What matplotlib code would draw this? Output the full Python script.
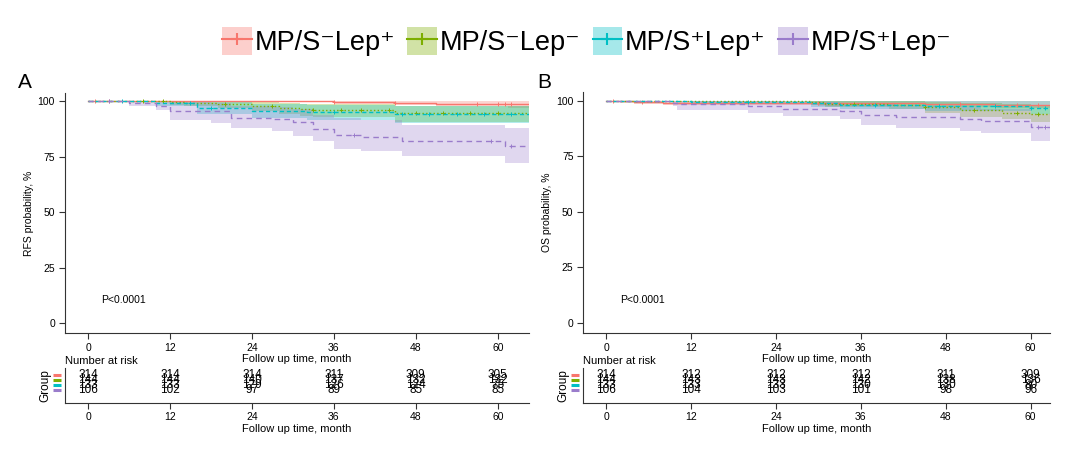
import matplotlib
matplotlib.use('Agg')
import matplotlib.pyplot as plt
from matplotlib.patches import Patch
from matplotlib.lines import Line2D
from matplotlib.transforms import blended_transform_factory

plt.rcParams['font.family'] = ['Liberation Sans', 'DejaVu Sans']

# groups
labels = ['MP/S\u207bLep\u207a', 'MP/S\u207bLep\u207b', 'MP/S\u207aLep\u207a', 'MP/S\u207aLep\u207b']
colors = ['#F8766D', '#7CAE00', '#00BFC4', '#9A7CCB']
styles = ['-', ':', (0, (3, 2)), (0, (4, 3))]
risk_times = [0, 12, 24, 36, 48, 60]

# ---- panel A: RFS (step curves) ----
a_t = [[0, 36, 45, 51, 61.5],
       [0, 12, 14, 19, 24, 28, 31, 33, 45],
       [0, 10, 16, 24, 32, 45],
       [0, 6, 10, 12, 18, 21, 27, 30, 33, 36, 40, 46, 61]]
a_s = [[100, 99.7, 99.4, 99.0, 98.6],
       [100, 99.5, 99.3, 99.0, 97.8, 97.2, 96.5, 96.0, 94.8],
       [100, 99.3, 97.2, 95.8, 95.3, 94.3],
       [100, 99.1, 98.1, 95.7, 95.5, 92.5, 92.0, 90.6, 87.6, 85.0, 84.0, 82.3, 80.0]]
a_lo = [[100, 99.0, 98.4, 97.8, 97.2],
        [100, 98.5, 98.0, 97.0, 95.5, 94.5, 93.5, 92.8, 90.8],
        [100, 97.8, 94.5, 92.5, 91.8, 90.2],
        [100, 98.0, 96.0, 91.8, 90.2, 88.0, 86.5, 84.5, 82.3, 78.5, 77.4, 75.2, 72.3]]
a_hi = [[100, 100, 100, 100, 100],
        [100, 100, 100, 100, 99.5, 99.3, 99.0, 98.8, 98.0],
        [100, 100, 99.5, 98.7, 98.4, 98.0],
        [100, 100, 100, 99.5, 99.3, 97.8, 97.5, 96.5, 94.0, 92.5, 91.8, 89.5, 88.0]]
a_cens = [[1, 3, 36, 45, 57, 60, 61, 62],
          [8, 11, 20, 27, 33, 37, 40, 44, 48, 52, 56, 60],
          [5, 15, 18, 36, 46, 50, 54, 58, 62],
          [3, 39, 59, 62]]
a_risk = [[314, 314, 314, 311, 309, 305],
          [144, 144, 140, 137, 132, 132],
          [133, 133, 129, 126, 124, 75],
          [106, 102, 97, 89, 85, 85]]

# ---- panel B: OS ----
b_t = [[0, 2, 4, 8, 30, 45, 55],
       [0, 29, 31, 40, 45, 50, 56, 60],
       [0, 12, 29, 33, 45, 60],
       [0, 9.5, 10, 20, 25, 33, 36, 41, 50, 53, 60]]
b_s = [[100, 99.7, 99.4, 99.0, 98.7, 98.5, 98.2],
       [100, 99.3, 98.6, 98.0, 97.0, 95.6, 94.6, 93.8],
       [100, 99.5, 98.8, 98.2, 97.6, 96.8],
       [100, 99.0, 98.3, 97.5, 96.4, 95.4, 93.7, 92.7, 91.6, 90.7, 88.0]]
b_lo = [[100, 99.0, 98.6, 98.0, 97.6, 97.3, 96.8],
        [100, 98.0, 97.0, 96.0, 94.6, 92.8, 91.5, 90.2],
        [100, 98.5, 97.3, 96.4, 95.3, 93.8],
        [100, 97.6, 95.8, 94.3, 93.0, 91.5, 89.0, 87.7, 86.5, 85.3, 82.0]]
b_hi = [[100, 100, 100, 100, 100, 100, 100],
        [100, 100, 100, 100, 99.5, 99.0, 98.5, 98.0],
        [100, 100, 100, 100, 99.8, 99.6],
        [100, 100, 100, 99.8, 99.5, 99.0, 98.3, 97.6, 97.0, 96.4, 94.0]]
b_cens = [[1, 5, 30, 50, 58, 61],
          [35, 45, 52, 58, 61],
          [20, 38, 47, 55, 60, 62],
          [61, 62]]
b_risk = [[314, 312, 312, 312, 311, 309],
          [144, 143, 143, 142, 138, 136],
          [133, 133, 133, 130, 130, 80],
          [106, 104, 103, 101, 98, 96]]


def value_at(t, s, x):
    v = s[0]
    for ti, si in zip(t, s):
        if ti <= x:
            v = si
    return v


def km_panel(ax, ts, ss, los, his, cens, xmax, ylab):
    for t, s, lo, hi, c, ls, cz in zip(ts, ss, los, his, colors, styles, cens):
        tt = list(t) + [xmax]
        ax.fill_between(tt, list(lo) + [lo[-1]], list(hi) + [hi[-1]], step='post',
                        color=c, alpha=0.3, lw=0)
        ax.step(tt, list(s) + [s[-1]], where='post', color=c, ls=ls, lw=1.0)
        ax.plot(cz, [value_at(t, s, x) for x in cz], ls='none', marker='+',
                ms=3, mew=0.7, color=c)
    ax.set_ylim(-4.5, 103.8)
    ax.set_yticks([0, 25, 50, 75, 100])
    ax.set_xticks(risk_times)
    ax.set_ylabel(ylab, fontsize=7.5, labelpad=3)
    ax.set_xlabel('Follow up time, month', fontsize=8, labelpad=1)
    ax.text(1.9, 10.3, 'P<0.0001', fontsize=7.5, va='center', ha='left')
    for side in ['top', 'right']:
        ax.spines[side].set_visible(False)
    for side in ['left', 'bottom']:
        ax.spines[side].set_color('#333333')
    ax.tick_params(labelsize=7.5, length=4, color='#333333', pad=3)


def risk_table(ax, risk, xlim):
    rows = [4, 3, 2, 1]
    for r, vals in zip(rows, risk):
        for x, v in zip(risk_times, vals):
            ax.text(x, r, str(v), ha='center', va='center', fontsize=8.5)
    ax.set_xlim(*xlim)
    ax.set_ylim(-1.6, 5.4)
    ax.set_yticks([])
    ax.set_xticks(risk_times)
    ax.set_xlabel('Follow up time, month', fontsize=8, labelpad=2)
    ax.set_ylabel('Group', fontsize=8.5, labelpad=10)
    tr = blended_transform_factory(ax.transAxes, ax.transData)
    ax.scatter([-0.017] * 4, rows, marker='_', s=35, linewidths=2.2,
               color=colors, transform=tr, clip_on=False)
    ax.text(0, 1.05, 'Number at risk', transform=ax.transAxes, fontsize=8, va='bottom')
    for side in ['top', 'right']:
        ax.spines[side].set_visible(False)
    for side in ['left', 'bottom']:
        ax.spines[side].set_color('#333333')
    ax.tick_params(labelsize=7.5, length=4, color='#333333', pad=2)


fig = plt.figure(figsize=(10.8, 4.49), dpi=100)

xlim_a = (-3.4, 64.6)
xlim_b = (-3.25, 62.7)

ax_a = fig.add_axes([0.060, 0.258, 0.430, 0.535])
km_panel(ax_a, a_t, a_s, a_lo, a_hi, a_cens, xlim_a[1], 'RFS probability, %')
ax_a.set_xlim(*xlim_a)

ax_b = fig.add_axes([0.540, 0.258, 0.432, 0.537])
km_panel(ax_b, b_t, b_s, b_lo, b_hi, b_cens, xlim_b[1], 'OS probability, %')
ax_b.set_xlim(*xlim_b)

tab_a = fig.add_axes([0.060, 0.102, 0.430, 0.078])
risk_table(tab_a, a_risk, xlim_a)
tab_b = fig.add_axes([0.540, 0.102, 0.432, 0.078])
risk_table(tab_b, b_risk, xlim_b)

fig.text(0.017, 0.805, 'A', fontsize=15)
fig.text(0.497, 0.805, 'B', fontsize=15)

handles = [(Patch(facecolor=c, alpha=0.35, lw=0),
            Line2D([], [], color=c, lw=1.5, marker='+', ms=9, mew=1.5)) for c in colors]
fig.legend(handles, labels, loc='center', bbox_to_anchor=(0.543, 0.907), ncol=4,
           frameon=False, fontsize=19.5, handlelength=1.1, handleheight=1.2,
           handletextpad=0.1, columnspacing=0.45, borderpad=0.1)

fig.savefig('out.png', dpi=100)
